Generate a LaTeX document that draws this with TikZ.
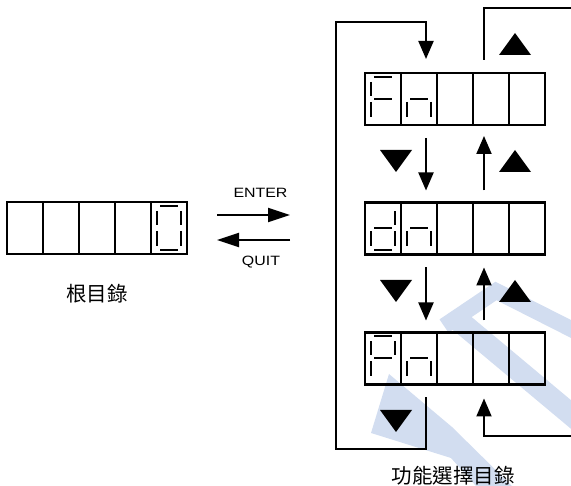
\documentclass[tikz,border=0pt]{standalone}
\usepackage{fontspec}
\setmainfont{Liberation Sans}
\newfontfamily\cjk{Noto Sans CJK TC}
\usetikzlibrary{arrows.meta,calc}
\definecolor{wmblue}{RGB}{210,221,240}
\newcommand\dgt[2]{\begin{scope}[shift={(#1.north west)}]\draw[seg] #2;\end{scope}}
\begin{document}
\begin{tikzpicture}[x=1pt,y=-1pt,
  cell/.style={draw, line width=2.3pt, minimum width=36pt, minimum height=52pt, inner sep=0pt, outer sep=0pt},
  seg/.style={line width=2pt, line cap=butt},
  conn/.style={line width=2pt, -{Triangle[length=18pt,width=15pt]}},
  plain/.style={line width=2pt},
  modearr/.style={line width=2pt, -{Triangle[length=22pt,width=14pt]}},
  lbl/.style={font=\fontsize{13.5}{15}\selectfont, inner sep=0pt},
  cjklbl/.style={font=\cjk\fontsize{20.5}{24}\selectfont, inner sep=0pt},
  wm/.style={fill=wmblue, draw=none}]
\useasboundingbox (0,0) rectangle (571,486);
% watermark
\begin{scope}
  \clip (0,0) rectangle (571,486);
  \fill[wm] (371,433) -- (389,374) -- (452,427) -- (512,486) -- (476,486) -- (451,458) -- cycle;
  \draw[wmblue, line width=16pt, line join=miter] (444,326) -- (496,291) -- (575,331);
  \draw[wmblue, line width=22pt] (458,320) -- (580,422);
\end{scope}
% displays
\foreach \i/\x in {1/25,2/61,3/97,4/133,5/169} \node[cell] (l\i) at (\x,228) {};
\foreach \i/\x in {1/383,2/419,3/455,4/491,5/527} {
  \node[cell] (f\i) at (\x,99) {};
  \node[cell] (d\i) at (\x,228.5) {};
  \node[cell] (p\i) at (\x,358.5) {};
}
% digits
\dgt{l5}{(9,4)--(27,4) (30,9)--(30,23) (30,29)--(30,44) (9,48)--(27,48) (6,29)--(6,44) (6,9)--(6,23)}
\dgt{f1}{(9,4)--(27,4) (6,9)--(6,23) (6,29)--(6,44) (9,26)--(27,26)}
\dgt{f2}{(9,26)--(27,26) (6,29)--(6,44) (30,29)--(30,44)}
\dgt{d1}{(30,9)--(30,23) (30,29)--(30,44) (9,48)--(27,48) (6,29)--(6,44) (9,26)--(27,26)}
\dgt{d2}{(9,26)--(27,26) (6,29)--(6,44) (30,29)--(30,44)}
\dgt{p1}{(9,4)--(27,4) (30,9)--(30,23) (6,9)--(6,23) (9,26)--(27,26) (6,29)--(6,44)}
\dgt{p2}{(9,26)--(27,26) (6,29)--(6,44) (30,29)--(30,44)}
% arrows between displays
\draw[conn] ([xshift=7pt,yshift=-13pt]f2.south) -- ([xshift=7pt,yshift=12pt]d2.north);
\draw[conn] ([xshift=-7pt,yshift=12pt]d4.north) -- ([xshift=-7pt,yshift=-11pt]f4.south);
\draw[conn] ([xshift=7pt,yshift=-13pt]d2.south) -- ([xshift=7pt,yshift=12pt]p2.north);
\draw[conn] ([xshift=-7pt,yshift=12pt]p4.north) -- ([xshift=-7pt,yshift=-13pt]d4.south);
% loops
\coordinate (lb) at (336,449);
\coordinate (lt) at (336,22);
\coordinate (rb) at (571,436);
\coordinate (rt) at (571,8);
\draw[conn] ([xshift=7pt,yshift=-13pt]p2.south) |- (lb) -- (lt) -| ([xshift=7pt,yshift=14pt]f2.north);
\draw[conn] (rb) -| ([xshift=-7pt,yshift=-14pt]p4.south);
\draw[plain] ([xshift=-7pt,yshift=13pt]f4.north) |- (rt);
% filled triangles
\fill (499,55) -- (531,55) -- (515,33) -- cycle;
\fill (380,150) -- (412,150) -- (396,172) -- cycle;
\fill (499,172) -- (531,172) -- (515,150) -- cycle;
\fill (380,280) -- (412,280) -- (396,302) -- cycle;
\fill (499,302) -- (531,302) -- (515,280) -- cycle;
\fill (380,410) -- (412,410) -- (396,432) -- cycle;
% enter / quit
\node[lbl] (enter) at (260.5,193) {\scalebox{1.18}[1]{ENTER}};
\node[lbl] (quit) at (261,262) {\scalebox{1.18}[1]{QUIT}};
\coordinate (eA) at ([xshift=30pt,yshift=13pt]l5.east);
\coordinate (eB) at ([xshift=103pt,yshift=13pt]l5.east);
\coordinate (qA) at ([xshift=103pt,yshift=-12pt]l5.east);
\coordinate (qB) at ([xshift=30pt,yshift=-12pt]l5.east);
\draw[modearr] (eA) -- (eB);
\draw[modearr] (qA) -- (qB);
% labels
\node[cjklbl] (root) at (97,294) {根目錄};
\node[cjklbl] (fsel) at (453,476) {功能選擇目錄};
\end{tikzpicture}
\end{document}
